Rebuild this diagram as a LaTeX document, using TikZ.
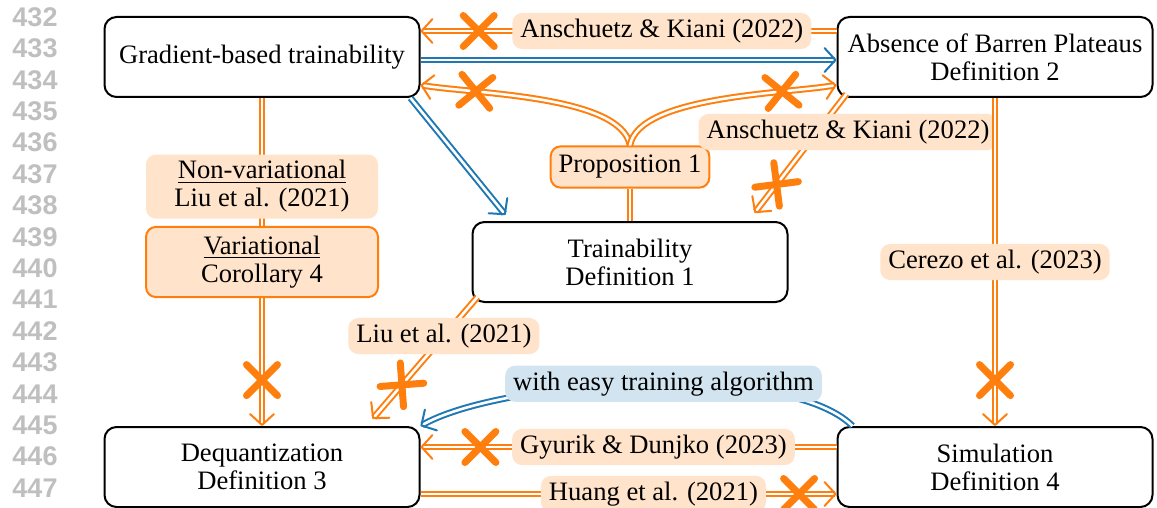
\documentclass[tikz,border=0pt]{standalone}
\usepackage{fontspec}
\setmainfont{Liberation Serif}
\newfontfamily\numfont{Liberation Sans}
\usetikzlibrary{arrows.meta}
\usetikzlibrary{shapes.misc}

\definecolor{implorange}{HTML}{FF7F0E}
\definecolor{implblue}{HTML}{1F77B4}

\tikzset{
  box/.style={draw=black, line width=1pt, rounded corners=6pt, fill=white,
    minimum width=157.5pt, minimum height=40pt, align=center},
  ref/.style={fill=implorange!22, text=black, rounded corners=5pt,
    inner xsep=4pt, inner ysep=3pt, align=center},
  refbox/.style={ref, draw=implorange, line width=1pt, inner ysep=4.5pt},
  hint/.style={ref, fill=implblue!20},
  olink/.style={draw=implorange, double=white, double distance=1.3pt, line width=1pt},
  oimp/.style={olink, -{Straight Barb[length=5.5pt, width=12pt, line join=round, line cap=round]}},
  bimp/.style={oimp, draw=implblue},
  nope/.style={draw=implorange, cross out, line width=3.5pt, line cap=round,
    minimum size=12pt, inner sep=0pt, sloped},
  lineno/.style={text=black!25, font=\numfont\bfseries\fontsize{13.5pt}{14pt}\selectfont},
}

\begin{document}
\begin{tikzpicture}[x=0.5pt, y=0.5pt, font=\fontsize{13.3pt}{14pt}\selectfont]
\useasboundingbox (0,0) rectangle (1157,-508);

% Line numbers
\foreach \i in {0,...,15} {
  \pgfmathtruncatemacro\lnum{432+\i}
  \node[lineno] (ln\i) at (35,-17-31.4*\i) {\lnum};
}

% Notions
\node[box] (grad) at (262,-57) {Gradient-based trainability};
\node[box] (abp) at (995,-57) {Absence of Barren Plateaus\\Definition 2};
\node[box] (train) at (630,-262) {Trainability\\Definition 1};
\node[box] (deq) at (262,-467) {Dequantization\\Definition 3};
\node[box] (sim) at (995,-467) {Simulation\\Definition 4};

\node[refbox] (prop) at (630,-167) {Proposition 1};

% Top row
\draw[oimp] ([yshift=13pt]abp.west) -- node[ref, pos=0.42] (ak1) {Anschuetz \& Kiani (2022)}
  node[nope, pos=0.86] (c1) {} ([yshift=13pt]grad.east);
\draw[bimp] ([yshift=-1.5pt]grad.east) -- ([yshift=-1.5pt]abp.west);

% Proposition 1
\draw[olink] (train.north) -- (prop.south);
\draw[oimp] (prop.north) to[out=100, in=-10, looseness=0.6] node[nope, pos=0.74] (c2) {} ([yshift=-14pt]grad.east);
\draw[oimp] (prop.north) to[out=80, in=190, looseness=0.6] node[nope, pos=0.74] (c3) {} ([yshift=-14pt]abp.west);

% Into trainability
\draw[bimp] ([xshift=-5pt]grad.south east) -- ([xshift=17pt, yshift=3pt]train.north west);
\draw[oimp] ([xshift=5pt, yshift=2pt]abp.south west) -- node[nope, pos=0.76] (c4) {}
  ([xshift=-17pt, yshift=4pt]train.north east);
\node[ref] (ak2) at (848,-132) {Anschuetz \& Kiani (2022)};

% Left column
\draw[oimp] (grad.south) -- node[ref, pos=0.27, minimum width=116pt] (nonvar) {\underline{Non-variational}\\Liu et al. (2021)}
  node[refbox, pos=0.5, minimum width=116pt] (var) {\underline{Variational}\\Corollary 4}
  node[nope, pos=0.86] (c5) {} (deq.north);

% Right column
\draw[oimp] (abp.south) -- node[ref, pos=0.5] (cerezo) {Cerezo et al. (2023)}
  node[nope, pos=0.86] (c6) {} (sim.north);

% Trainability to dequantization
\draw[oimp] ([xshift=3pt, yshift=3pt]train.south west) -- node[ref, pos=0.32] (liu) {Liu et al. (2021)}
  node[nope, pos=0.72] (c7) {} ([xshift=-24pt, yshift=3.5pt]deq.north east);

% Bottom row
\draw[bimp] ([xshift=8pt]sim.north west) to[out=135, in=30, looseness=0.55]
  node[hint, pos=0.46] (easy) {with easy training algorithm} (deq.north east);
\draw[oimp] ([yshift=10pt]sim.west) -- node[ref, pos=0.44] (gyurik) {Gyurik \& Dunjko (2023)}
  node[nope, pos=0.856] (c8) {} ([yshift=10pt]deq.east);
\draw[oimp] ([yshift=-13.5pt]deq.east) -- node[ref, pos=0.56] (huang) {Huang et al. (2021)}
  node[nope, pos=0.91] (c9) {} ([yshift=-13.5pt]sim.west);

\end{tikzpicture}
\end{document}
